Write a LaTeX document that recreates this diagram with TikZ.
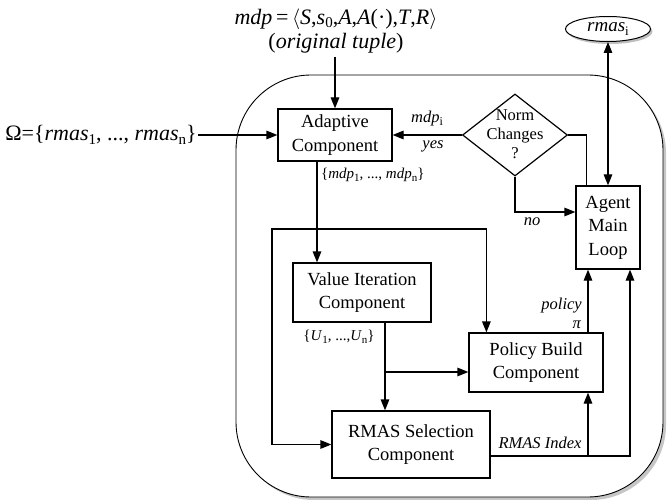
\documentclass[tikz,border=0pt]{standalone}
\usepackage{fontspec}
\setmainfont{Liberation Serif}
\usetikzlibrary{shapes.geometric,shadows,arrows.meta}
\newcommand\myfs[2]{\fontsize{#1}{#2}\selectfont}
\newcommand\lsub[2]{\raisebox{-0.35ex}{\fontsize{#2}{#2}\selectfont #1}}
\begin{document}
\begin{tikzpicture}[x=1pt,y=-1pt,
  box/.style={draw, line width=1.2pt, fill=white, align=center, font=\myfs{18.5}{23.5}, inner sep=0pt},
  tip/.style={-{Triangle[length=11pt,width=8.5pt]}},
  conn/.style={line width=1.2pt, tip},
  lbl/.style={font=\myfs{16.5}{19}\itshape, inner sep=1pt}]
\useasboundingbox (0,0) rectangle (667,500);
% container
\draw[line width=0.9pt, fill=white, rounded corners=75pt,
  drop shadow={shadow xshift=3pt, shadow yshift=-3pt, opacity=0.45}]
  (236,75) rectangle (663,497);
% nodes
\node[font=\myfs{22}{24}, align=center] (top) at (336,31)
  {\textit{mdp}\,=\,$\langle$\textit{S},\textit{s}\lsub{0}{15},\textit{A},\textit{A}(·),\textit{T},\textit{R}$\rangle$\\(\textit{original tuple})};
\node[font=\myfs{22}{24}, inner sep=1pt] (om) at (101,135)
  {Ω=\{\textit{rmas}\lsub{1}{15}, ..., \textit{rmas}\lsub{n}{15}\}};
\node[box, minimum width=114pt, minimum height=52pt] (ad) at (335,135) {Adaptive\\Component};
\node[draw, line width=1.2pt, diamond, minimum width=105pt, minimum height=82pt, inner sep=0pt] (nc) at (515,135) {};
\node[align=center, font=\myfs{16.5}{19}, inner sep=0pt] (nct) at (515,134) {Norm\\Changes\\?};
\node[draw, line width=1pt, ellipse, fill=white, minimum width=85pt, minimum height=25pt, inner sep=0pt,
  drop shadow={shadow xshift=2pt, shadow yshift=-2.5pt, opacity=0.5}, font=\myfs{19}{20}] (rm) at (608,29)
  {\textit{rmas}\lsub{i}{13}};
\node[box, minimum width=64pt, minimum height=83pt] (am) at (608,227.5) {Agent\\Main\\Loop};
\node[box, minimum width=138pt, minimum height=59pt] (vi) at (362,292.5) {Value Iteration\\Component};
\node[box, minimum width=134pt, minimum height=59pt] (pb) at (536,362.5) {Policy Build\\Component};
\node[box, minimum width=158pt, minimum height=67pt] (rs) at (411,444.5) {RMAS Selection\\Component};
% junctions
\coordinate (j1) at (317,229);
\coordinate (j2) at (385,372);
\coordinate (j3) at (588,456);
\coordinate (j4) at (630,456);
% connectors
\draw[conn] (top.south -| ad.north) -- (ad.north);
\draw[conn] (om.east) -- (ad.west);
\draw[conn] (nc.west) -- (ad.east);
\draw[line width=1.2pt] (nc.east) -| ([xshift=11pt]am.north west);
\draw[conn] (nc.south) |- ([yshift=15.5pt]am.west);
\draw[line width=1.2pt, {Triangle[length=11pt,width=8.5pt]}-{Triangle[length=11pt,width=8.5pt]}] (rm.south) -- (am.north);
\draw[conn] (ad.south -| j1) -- (vi.north -| j1);
\draw[conn] (j1) -- (272,229) |- (rs.west);
\draw[conn] (j1) -| ([xshift=18pt]pb.north west);
\draw[conn] (vi.south -| j2) -- (rs.north -| j2);
\draw[conn] (j2) -- (pb.west |- j2);
\draw[conn] (pb.north -| j3) -- (am.south -| j3);
\draw[conn] (rs.east |- j4) -- (j4) -- (am.south -| j4);
\draw[conn] (j3) -- (pb.south -| j3);
% labels
\node[lbl] (l1) at (427,119) {mdp\lsub{\upshape i}{12}};
\node[lbl] (l2) at (433,146) {yes};
\node[lbl] (l3) at (532,222) {no};
\node[font=\myfs{15}{17}, anchor=west, inner sep=0pt] (l4) at (321,175)
  {\{\textit{mdp}\lsub{1}{11}, ..., \textit{mdp}\lsub{n}{11}\}};
\node[font=\myfs{15}{17}, inner sep=0pt] (l5) at (339,337)
  {\{\textit{U}\lsub{1}{11}, ...,\textit{U}\lsub{n}{11}\}};
\node[lbl, anchor=east] (l6) at (583,306) {policy};
\node[lbl, anchor=east] (l7) at (582,325) {π};
\node[lbl] (l8) at (540,443) {RMAS Index};
\end{tikzpicture}
\end{document}
